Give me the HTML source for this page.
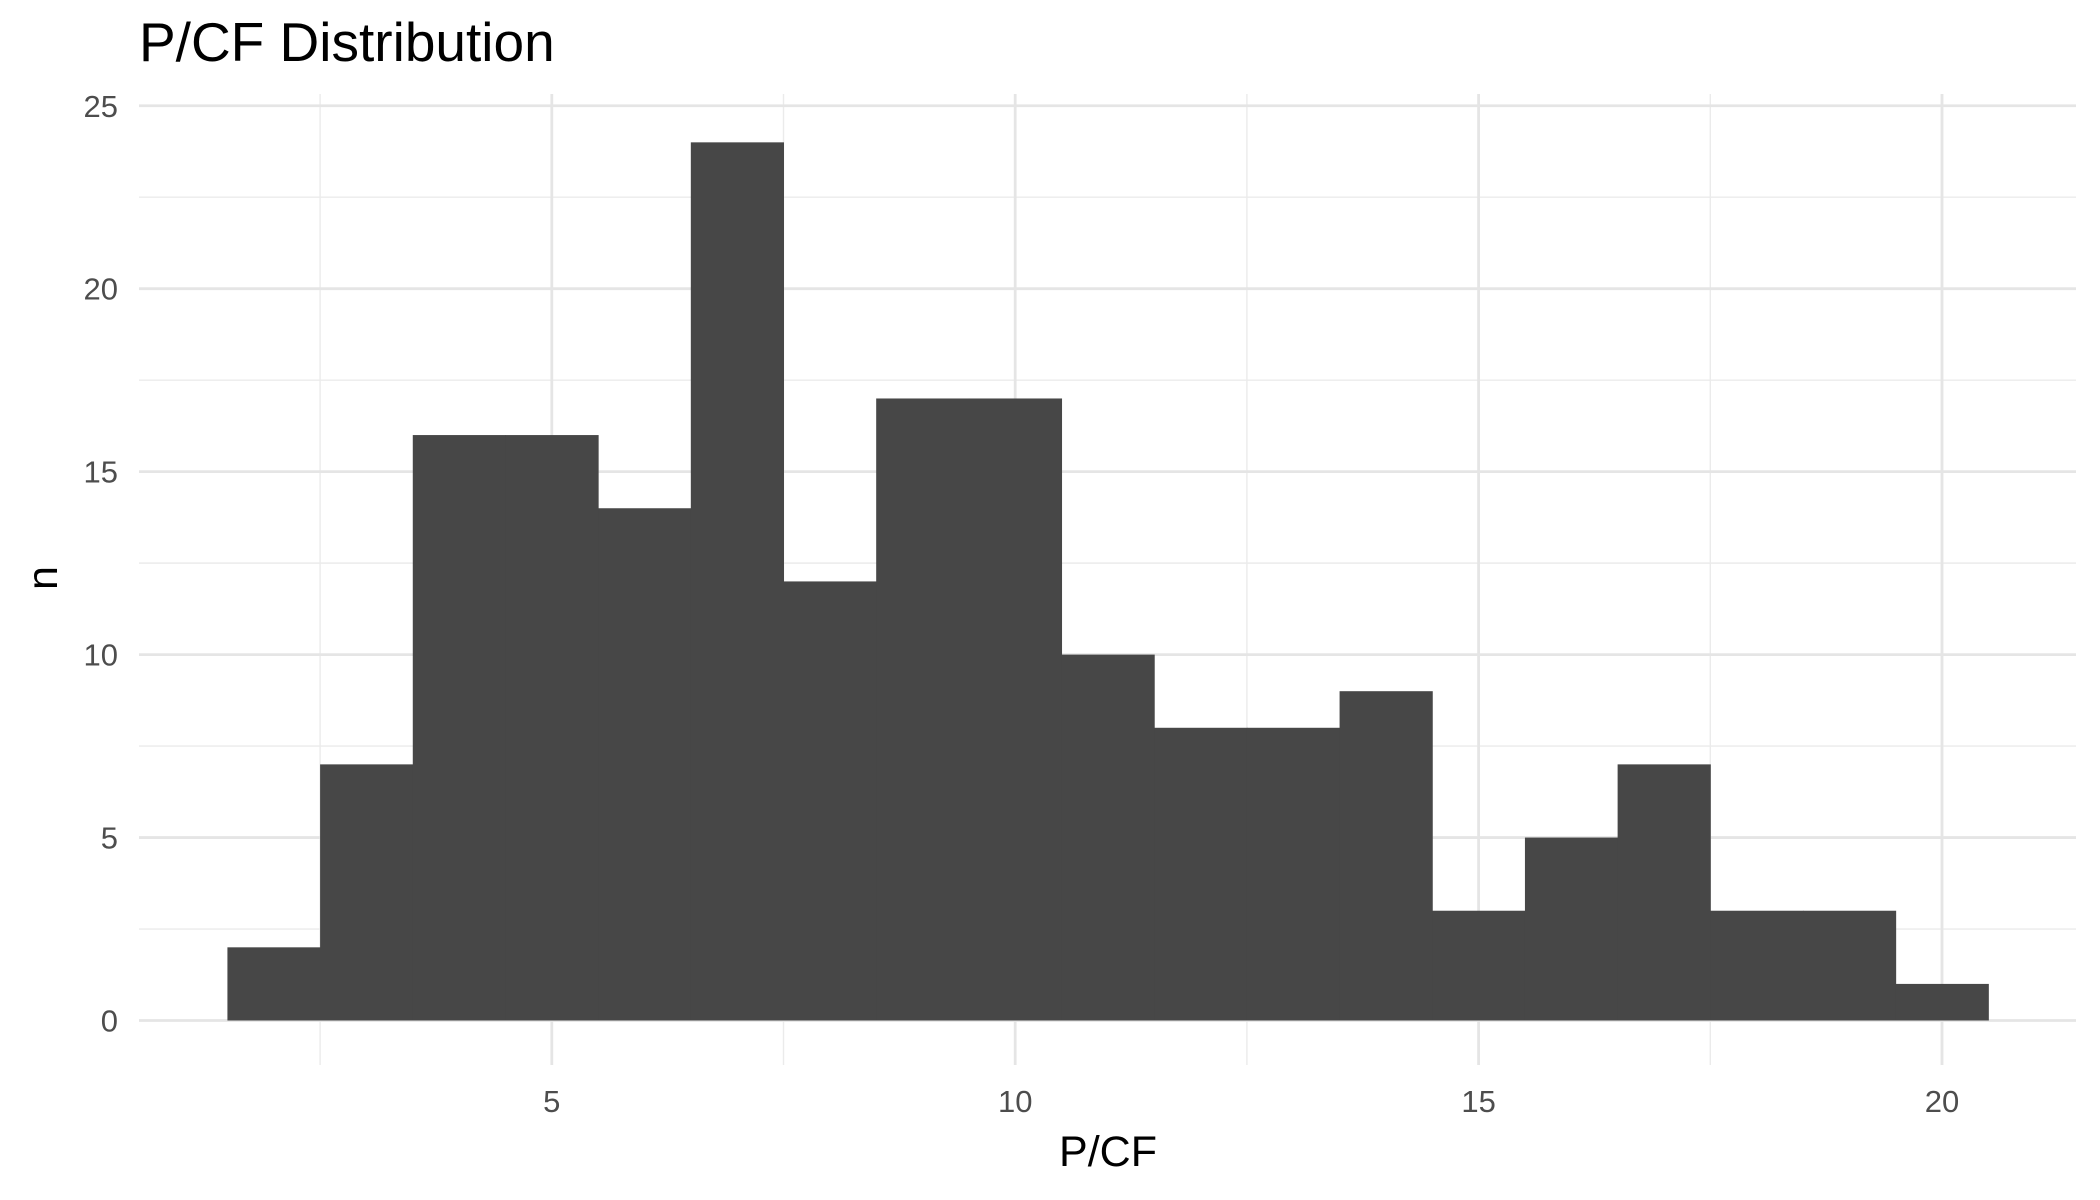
<!DOCTYPE html>
<html><head><meta charset="utf-8"><style>
html,body{margin:0;padding:0;background:#fff;}
svg{display:block;font-family:"Liberation Sans",Arial,sans-serif;}
</style></head><body>
<svg id="chart" width="2100" height="1200" viewBox="0 0 2100 1200">
<text x="139" y="61" font-size="55" fill="#000">P/CF Distribution</text>
<g id="grid"></g>
<g id="bars"></g>
<g id="ticks"></g>
<text x="1108" y="1166" font-size="43" text-anchor="middle" fill="#000">P/CF</text>
<text x="0" y="0" font-size="43" text-anchor="middle" fill="#000" transform="translate(57,578) rotate(-90)">n</text>
</svg>
<script>
const binCenters = [2,3,4,5,6,7,8,9,10,11,12,13,14,15,16,17,18,19,20];
const counts = [2,7,16,16,14,24,12,17,17,10,8,8,9,3,5,7,3,3,1];
const xTicks = [5,10,15,20];
const xMinor = [2.5,7.5,12.5,17.5];
const yTicks = [0,5,10,15,20,25];
const yMinor = [2.5,7.5,12.5,17.5,22.5];
const binWidth = 1;
const NS = "http://www.w3.org/2000/svg";
const px0 = 139, px1 = 2076, py0 = 94, py1 = 1065;
function xs(v){ return 551.8 + (v - 5) * 92.68; }
function ys(v){ return 1020.5 - v * 36.59; }
function mk(tag, attrs, parent){ const e = document.createElementNS(NS, tag); for (const k in attrs) e.setAttribute(k, attrs[k]); parent.appendChild(e); return e; }
const grid = document.getElementById('grid');
const bars = document.getElementById('bars');
const ticks = document.getElementById('ticks');
yMinor.forEach(v => { const l = mk('line', {x1:px0, x2:px1, y1:ys(v), y2:ys(v), stroke:'#ebebeb', 'stroke-width':1.4}, grid);

 });
xMinor.forEach(v => { const l = mk('line', {x1:xs(v), x2:xs(v), y1:py0, y2:py1, stroke:'#ebebeb', 'stroke-width':1.4}, grid);

 });
yTicks.forEach(v => { const l = mk('line', {x1:px0, x2:px1, y1:ys(v), y2:ys(v), stroke:'#e5e5e5', 'stroke-width':2.8}, grid);


const t = mk('text', {x:118, y:ys(v)+11, 'font-size':31, 'text-anchor':'end', fill:'#4d4d4d'}, ticks);
t.textContent = v;

 });
xTicks.forEach(v => { const l = mk('line', {x1:xs(v), x2:xs(v), y1:py0, y2:py1, stroke:'#e5e5e5', 'stroke-width':2.8}, grid);


const t = mk('text', {x:xs(v), y:1112, 'font-size':31, 'text-anchor':'middle', fill:'#4d4d4d'}, ticks);
t.textContent = v;

 });
binCenters.forEach((c, i) => {
  const x0 = xs(c - binWidth/2), x1 = xs(c + binWidth/2);
  const r = mk('rect', {x:x0, y:ys(counts[i]), width:x1-x0+0.5, height:ys(0)-ys(counts[i]), fill:'#474747'}, bars);
  
  
});
</script>
</body></html>
